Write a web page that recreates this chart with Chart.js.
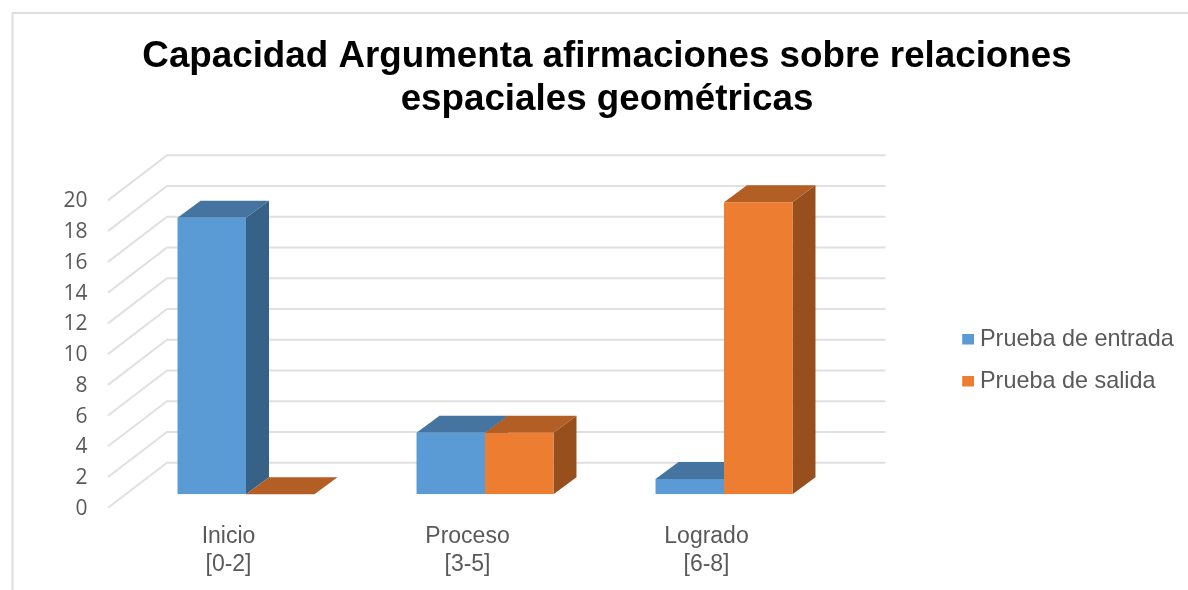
<!DOCTYPE html>
<html>
<head>
<meta charset="utf-8">
<style>html,body{margin:0;padding:0;background:#fff}canvas{display:block}</style>
<script src="https://cdn.jsdelivr.net/npm/chart.js@4"></script>
</head>
<body>
<canvas id="c" width="1188" height="590"></canvas>
<script>
const titleLines = ['Capacidad Argumenta afirmaciones sobre relaciones', 'espaciales geométricas'];
const categories = [['Inicio', '[0-2]'], ['Proceso', '[3-5]'], ['Logrado', '[6-8]']];
const entrada = [18, 4, 1];
const salida = [0, 4, 19];
const seriesNames = ['Prueba de entrada', 'Prueba de salida'];
const frontColors = ['#5B9BD5', '#ED7D31'];
const topColors = ['#44749F', '#B25E25'];
const sideColors = ['#376186', '#964F1D'];

function marker(color) {
  const m = document.createElement('canvas');
  m.width = 18; m.height = 12;
  const g = m.getContext('2d');
  g.fillStyle = color;
  g.fillRect(6, 0, 12, 11);
  return m;
}
const markers = frontColors.map(marker);

const depth = {dx: 23, dy: -17};
const scene = {
  id: 'scene',
  beforeLayout(chart) {
    const lg = chart.legend;
    if (!lg._fitWrapped) {
      const fit = lg.fit;
      lg.fit = function () { fit.call(this); this.width = 344.5; };
      lg._fitWrapped = true;
    }
  },
  afterLayout(chart) {
    chart.legend.left = 943.4; chart.legend.right = 1188;
    chart.legend.top = 300; chart.legend.bottom = 421;
    chart.titleBlock.left = 26; chart.titleBlock.right = 1188;
  },
  beforeDraw(chart) {
    const c = chart.ctx;
    c.save();
    c.strokeStyle = '#DEDEDE'; c.lineWidth = 2;
    c.beginPath();
    c.moveTo(1188, 13); c.lineTo(12.5, 13); c.lineTo(12.5, 590);
    c.stroke();
    c.restore();
  },
  beforeDatasetsDraw(chart) {
    const c = chart.ctx, y = chart.scales.y, area = chart.chartArea;
    c.save();
    c.strokeStyle = '#E0E0E0'; c.lineWidth = 2;
    y.ticks.forEach(t => {
      const py = y.getPixelForValue(t.value);
      c.beginPath();
      c.moveTo(area.left - 18.5, py + 13.5);
      c.lineTo(area.left + 40.5, py - 31.6);
      c.lineTo(area.right + 42, py - 31.6);
      c.stroke();
    });
    chart.data.datasets.forEach((ds, i) => {
      chart.getDatasetMeta(i).data.forEach(bar => {
        const p = bar.getProps(['x', 'y', 'base', 'width'], true);
        const l = p.x - p.width / 2, r = p.x + p.width / 2;
        c.fillStyle = sideColors[i];
        c.beginPath();
        c.moveTo(r, p.y); c.lineTo(r + depth.dx, p.y + depth.dy);
        c.lineTo(r + depth.dx, p.base + depth.dy); c.lineTo(r, p.base);
        c.closePath(); c.fill();
        c.fillStyle = topColors[i];
        c.beginPath();
        c.moveTo(l, p.y); c.lineTo(l + depth.dx, p.y + depth.dy);
        c.lineTo(r + depth.dx, p.y + depth.dy); c.lineTo(r, p.y);
        c.closePath(); c.fill();
      });
    });
    c.restore();
  }
};

new Chart(document.getElementById('c'), {
  type: 'bar',
  data: {
    labels: categories,
    datasets: [
      {label: seriesNames[0], data: entrada, backgroundColor: frontColors[0], borderWidth: 0},
      {label: seriesNames[1], data: salida, backgroundColor: frontColors[1], borderWidth: 0}
    ]
  },
  options: {
    responsive: false,
    animation: false,
    layout: {padding: 0},
    categoryPercentage: 0.573,
    barPercentage: 1,
    scales: {
      x: {
        grid: {display: false},
        border: {display: false},
        ticks: {
          color: '#595959', padding: 20, labelOffset: -17.5, maxRotation: 0, autoSkip: false,
          font: {family: 'Liberation Sans', size: 23, lineHeight: 1.217}
        },
        afterFit(s) { s.height = 95.7; }
      },
      y: {
        min: 0, max: 20,
        grid: {display: false},
        border: {display: false},
        ticks: {
          stepSize: 2, color: '#595959', padding: 31, labelOffset: 14.5,
          font: {family: 'Open Sans', size: 21}
        },
        afterFit(s) { s.width = 126.5; }
      }
    },
    plugins: {
      title: {
        display: true, text: titleLines, color: '#000',
        font: {family: 'Liberation Sans', size: 36.75, weight: 'bold', lineHeight: 1.17},
        padding: {top: 35.5, bottom: 65.4}
      },
      legend: {
        position: 'right',
        labels: {
          color: '#595959', boxWidth: 6.3, padding: 18.6, usePointStyle: true,
          font: {family: 'Liberation Sans', size: 23.4, lineHeight: 1.2},
          generateLabels(chart) {
            return Chart.defaults.plugins.legend.labels.generateLabels(chart)
              .map((it, i) => Object.assign(it, {pointStyle: markers[i]}));
          }
        }
      },
      tooltip: {enabled: false}
    }
  },
  plugins: [scene]
});
</script>
</body>
</html>
